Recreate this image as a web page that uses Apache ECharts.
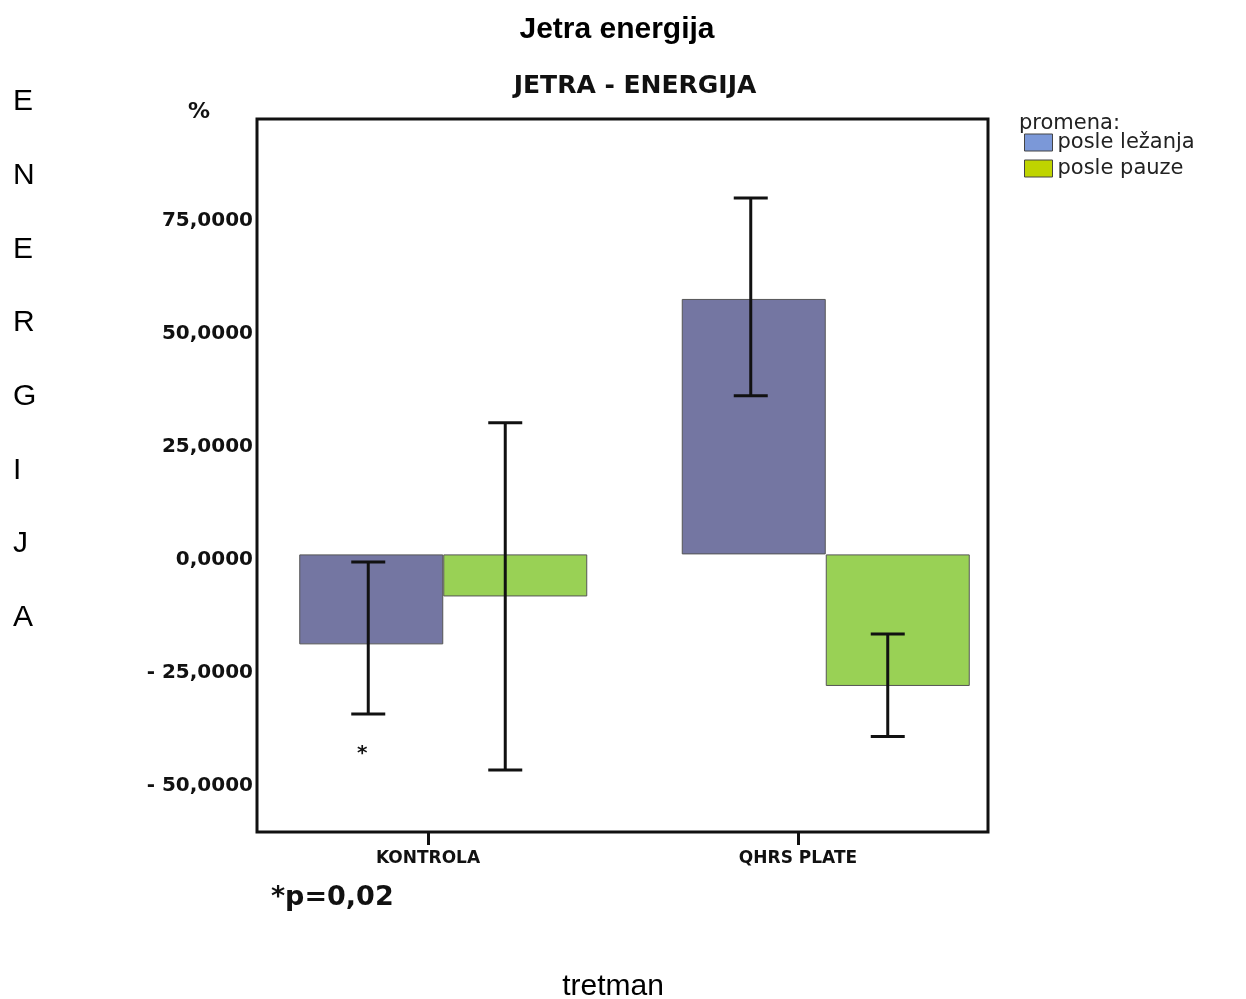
<!DOCTYPE html>
<html><head><meta charset="utf-8">
<script src="https://cdn.jsdelivr.net/npm/echarts@6/dist/echarts.min.js"></script>
<style>html,body{margin:0;padding:0;background:#fff}#c{width:1246px;height:999px}</style>
</head><body><div id="c"></div>
<script>
// ---- data ----
const categories = ['KONTROLA', 'QHRS PLATE'];
const seriesNames = ['posle ležanja', 'posle pauze'];
const meanLezanja = [-19.9, 56.5];
const meanPauze = [-9.3, -29.1];
const errLezanja = [[-35.3, -1.7], [35.1, 78.8]];   // [low, high]
const errPauze = [[-47.7, 29.1], [-40.3, -17.6]];
const annotLezanja = ['*', ''];
const annotPauze = ['', ''];
const yTicks = [-50, -25, 0, 25, 50, 75];
const yMin = -61.4, yMax = 96.3;

// ---- style ----
const BAR_W = 144;
const barColors = ['#7476a2', '#99d155'];
const legendColors = ['#7b98d8', '#bfd400'];
const wide = 'DejaVu Sans';
const gridTop = 119, gridBottom = 167;

function fmt(v) {
  const s = Math.abs(v).toFixed(4).replace('.', ',');
  return (v < 0 ? '- ' : '') + s;
}

function errSeries(name, err, annot, off) {
  return {
    type: 'custom', name: name + ' err', xAxisIndex: 1, yAxisIndex: 1, z: 10,
    silent: true,
    data: err.map((e, i) => [i, e[0], e[1]]),
    renderItem: function (params, api) {
      const lo = api.coord([api.value(0), api.value(1)]);
      const hi = api.coord([api.value(0), api.value(2)]);
      const x = lo[0] + off;
      const cap = 17;
      const st = { stroke: '#111', lineWidth: 3 };
      const ch = [
        { type: 'line', shape: { x1: x, y1: hi[1], x2: x, y2: lo[1] }, style: st },
        { type: 'line', shape: { x1: x - cap, y1: hi[1], x2: x + cap, y2: hi[1] }, style: st },
        { type: 'line', shape: { x1: x - cap, y1: lo[1], x2: x + cap, y2: lo[1] }, style: st }
      ];
      const note = annot[params.dataIndex];
      if (note) ch.push({ type: 'text', style: { text: note, x: x - 6, y: lo[1] + 40, align: 'center', verticalAlign: 'middle', font: 'bold 20px "DejaVu Sans"', fill: '#111' } });
      return { type: 'group', children: ch };
    }
  };
}

const chart = echarts.init(document.getElementById('c'), null, { renderer: 'canvas' });
chart.setOption({
  backgroundColor: '#fff',
  animation: false,
  title: [
    { text: 'Jetra energija', left: 617, top: 15, textAlign: 'center', padding: 0,
      textStyle: { fontFamily: 'Liberation Sans', fontWeight: 'bold', fontSize: 30, color: '#000' } },
    { text: 'JETRA - ENERGIJA', left: 635, top: 74, textAlign: 'center', padding: 0,
      textStyle: { fontFamily: wide, fontWeight: 'bold', fontSize: 25, color: '#111' } },
    { text: 'E\nN\nE\nR\nG\nI\nJ\nA', left: 13, top: 65, padding: 0,
      textStyle: { fontFamily: 'Liberation Sans', fontWeight: 'normal', fontSize: 30, lineHeight: 73.7, color: '#000' } },
    { text: '%', left: 199, top: 101, textAlign: 'center', padding: 0,
      textStyle: { fontFamily: wide, fontWeight: 'bold', fontSize: 22, color: '#111' } },
    { text: '*p=0,02', left: 271, top: 884, padding: 0,
      textStyle: { fontFamily: wide, fontWeight: 'bold', fontSize: 27, color: '#111' } },
    { text: 'promena:', left: 1019, top: 113, padding: 0,
      textStyle: { fontFamily: wide, fontWeight: 'normal', fontSize: 21, color: '#222' } }
  ],
  legend: {
    orient: 'vertical', left: 1024, top: 132, padding: 0, itemWidth: 28, itemHeight: 17, itemGap: 5,
    icon: 'rect', selectedMode: false,
    textStyle: { fontFamily: wide, fontSize: 21, lineHeight: 17, color: '#222' },
    data: seriesNames.map((n, i) => ({ name: n, itemStyle: { color: legendColors[i], borderColor: '#444', borderWidth: 1 } }))
  },
  grid: [
    { left: 257, right: 258, top: gridTop, bottom: gridBottom, show: true, borderColor: '#111', borderWidth: 3, backgroundColor: 'transparent', outerBoundsMode: 'none', containLabel: false },
    { left: 252, right: 229, top: gridTop, bottom: gridBottom, outerBoundsMode: 'none', containLabel: false },
    { left: 243, right: 263, top: gridTop, bottom: gridBottom, outerBoundsMode: 'none', containLabel: false }
  ],
  xAxis: [
    { gridIndex: 0, type: 'category', data: categories, show: false },
    { gridIndex: 1, type: 'category', data: categories, show: false },
    { gridIndex: 2, type: 'category', data: categories, position: 'bottom',
      name: 'tretman', nameLocation: 'middle', nameGap: 140,
      nameTextStyle: { fontFamily: 'Liberation Sans', fontSize: 30, color: '#000' },
      axisLine: { show: false, onZero: false },
      axisTick: { show: true, inside: false, alignWithLabel: true, length: 13, lineStyle: { color: '#111', width: 3 } },
      axisLabel: { margin: 18, fontFamily: wide, fontWeight: 'bold', fontSize: 17, color: '#111' },
      splitLine: { show: false } }
  ],
  yAxis: [
    { gridIndex: 0, type: 'value', min: yMin, max: yMax,
      axisLine: { show: false }, axisTick: { show: false }, splitLine: { show: false },
      axisLabel: { customValues: yTicks, formatter: fmt, margin: 4, verticalAlign: 'top', lineHeight: 10,
        fontFamily: wide, fontWeight: 'bold', fontSize: 20, color: '#111' } },
    { gridIndex: 1, type: 'value', min: yMin, max: yMax, show: false, splitLine: { show: false } },
    { gridIndex: 2, type: 'value', min: yMin, max: yMax, show: false, splitLine: { show: false } }
  ],
  series: [
    { type: 'bar', name: seriesNames[0], xAxisIndex: 1, yAxisIndex: 1, data: meanLezanja,
      barWidth: BAR_W, barGap: '0%',
      itemStyle: { color: barColors[0], borderColor: '#555', borderWidth: 1 } },
    { type: 'bar', name: seriesNames[1], xAxisIndex: 1, yAxisIndex: 1, data: meanPauze,
      barWidth: BAR_W, barGap: '0%',
      itemStyle: { color: barColors[1], borderColor: '#555', borderWidth: 1 } },
    errSeries(seriesNames[0], errLezanja, annotLezanja, -BAR_W / 2 - 3),
    errSeries(seriesNames[1], errPauze, annotPauze, BAR_W / 2 - 10)
  ]
});
</script></body></html>
